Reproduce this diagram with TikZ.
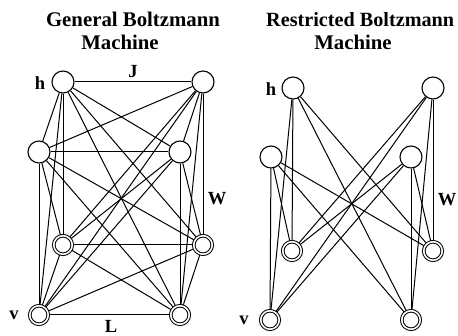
\documentclass[tikz,border=0pt]{standalone}
\usepackage{fontspec}
\setmainfont{Liberation Serif}
\pgfdeclarelayer{bg}
\pgfsetlayers{bg,main}
\begin{document}
\begin{tikzpicture}[x=1pt,y=-1pt,
  hid/.style={circle,draw,fill=white,line width=1.1pt,minimum size=22pt,inner sep=0pt},
  vis/.style={circle,draw,fill=white,line width=1pt,double,double distance=1.6pt,minimum size=18.5pt,inner sep=0pt},
  conn/.style={line width=1pt},
  ttl/.style={font=\fontsize{20.8}{24}\selectfont\bfseries,anchor=base,inner sep=0pt},
  lbl/.style={font=\fontsize{18.5}{20}\selectfont\bfseries,inner sep=0pt}]
\useasboundingbox (0,0) rectangle (458,336);
% titles
\node[ttl] (t1) at (133,27) {General Boltzmann};
\node[ttl] (t2) at (120,50) {Machine};
\node[ttl,anchor=base west,font=\fontsize{20.2}{24}\selectfont\bfseries] (t3) at (266,27) {Restricted Boltzmann};
\node[ttl] (t4) at (353,50) {Machine};
% general BM
\node[hid] (g1) at (63,82) {};
\node[hid] (g2) at (203,82) {};
\node[hid] (g3) at (39,152) {};
\node[hid] (g4) at (180,152) {};
\node[vis] (g5) at (63,245) {};
\node[vis] (g6) at (203,245) {};
\node[vis] (g7) at (39,315) {};
\node[vis] (g8) at (180,315) {};
% restricted BM
\node[hid] (r1) at (293,88) {};
\node[hid] (r2) at (433,88) {};
\node[hid] (r3) at (271,157) {};
\node[hid] (r4) at (411,157) {};
\node[vis] (r5) at (292,251) {};
\node[vis] (r6) at (433,251) {};
\node[vis] (r7) at (270,320) {};
\node[vis] (r8) at (411,320) {};
% labels
\node[lbl] (lh1) at (40,83) {h};
\node[lbl] (lJ) at (133,72) {J};
\node[lbl] (lW1) at (217,199) {W};
\node[lbl] (lv1) at (14,315) {v};
\node[lbl] (lL) at (111,326) {L};
\node[lbl] (lh2) at (271,89) {h};
\node[lbl] (lW2) at (447,200) {W};
\node[lbl] (lv2) at (244,320) {v};
\begin{pgfonlayer}{bg}
\foreach \i in {1,...,7}{
  \pgfmathtruncatemacro\s{\i+1}
  \foreach \j in {\s,...,8}{\draw[conn] (g\i) -- (g\j);}}
\foreach \i in {1,...,4}{
  \foreach \j in {5,...,8}{\draw[conn] (r\i) -- (r\j);}}
\end{pgfonlayer}
\end{tikzpicture}
\end{document}
